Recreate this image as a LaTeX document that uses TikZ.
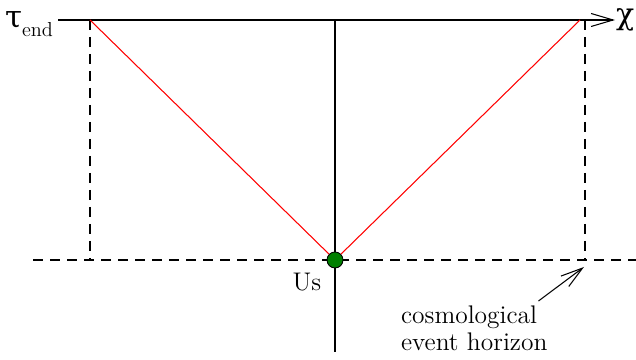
\documentclass[tikz,border=0pt]{standalone}
\usepackage{fontspec}
\newfontfamily\greekfont{DejaVu Serif}
\usetikzlibrary{arrows.meta,positioning}
\begin{document}
\begin{tikzpicture}[
    axis/.style={draw, line width=0.6pt},
    guide/.style={draw, line width=0.6pt, dash pattern=on 2mm off 1.4mm},
    ray/.style={draw=red, line width=0.6pt},
    pointer/.style={draw, line width=0.6pt, -{Straight Barb[length=4.4mm,width=2.6mm]}},
    lbl/.style={inner sep=1pt, font=\fontsize{14.5}{15.3}\selectfont},
    greek/.style={inner sep=0.5pt, font=\greekfont\fontsize{17}{17}\selectfont},
    here/.style={circle, draw, fill=green!50!black, inner sep=0pt, minimum size=3.2mm, line width=0.5pt}
]
    \useasboundingbox (0,0) rectangle (12.72,7.2);

    \coordinate (topstart) at (1.16,6.8);
    \coordinate (tip) at (12.3,6.8);
    \coordinate (edgeL) at (1.8,6.8);
    \coordinate (edgeR) at (11.6,6.8);
    \coordinate (horTop) at (11.7,6.8);
    \coordinate (horBot) at (11.7,2.0);
    \coordinate (leftBot) at (1.8,2.0);
    \coordinate (nowL) at (0.66,2.0);
    \coordinate (nowR) at (12.72,2.0);
    \coordinate (apex) at (6.7,6.8);
    \coordinate (bottom) at (6.7,0.16);
    \coordinate (cross) at (11.68,1.86);

    \node [anchor=base east, inner sep=1pt] (tau) at (1.1,6.64)
        {{\greekfont\fontsize{17.5}{17.5}\selectfont τ}\raisebox{-5pt}{\fontsize{11.5}{11.5}\selectfont end}};
    \node [greek, anchor=west] (chi) at (tip) {χ};

    \draw [pointer] (topstart) -- (tip);
    \draw [guide] (edgeL) -- (leftBot);
    \draw [guide] (horTop) -- (horBot);
    \draw [guide] (nowL) -- (nowR);

    \node [here] (us) at (6.7,2.0) {};
    \node [lbl] (uslabel) at (6.14,1.56) {Us};

    \draw [axis] (apex) -- (us);
    \draw [axis] (us) -- (bottom);
    \draw [ray] (edgeL) -- (us);
    \draw [ray] (us) -- (edgeR);

    \node [lbl, align=left, anchor=north west] (horizon) at (7.98,1.12) {cosmological\\event horizon};
    \draw [pointer] ([xshift=-0.22cm, yshift=0.06cm]horizon.north east) -- (cross);
\end{tikzpicture}
\end{document}
